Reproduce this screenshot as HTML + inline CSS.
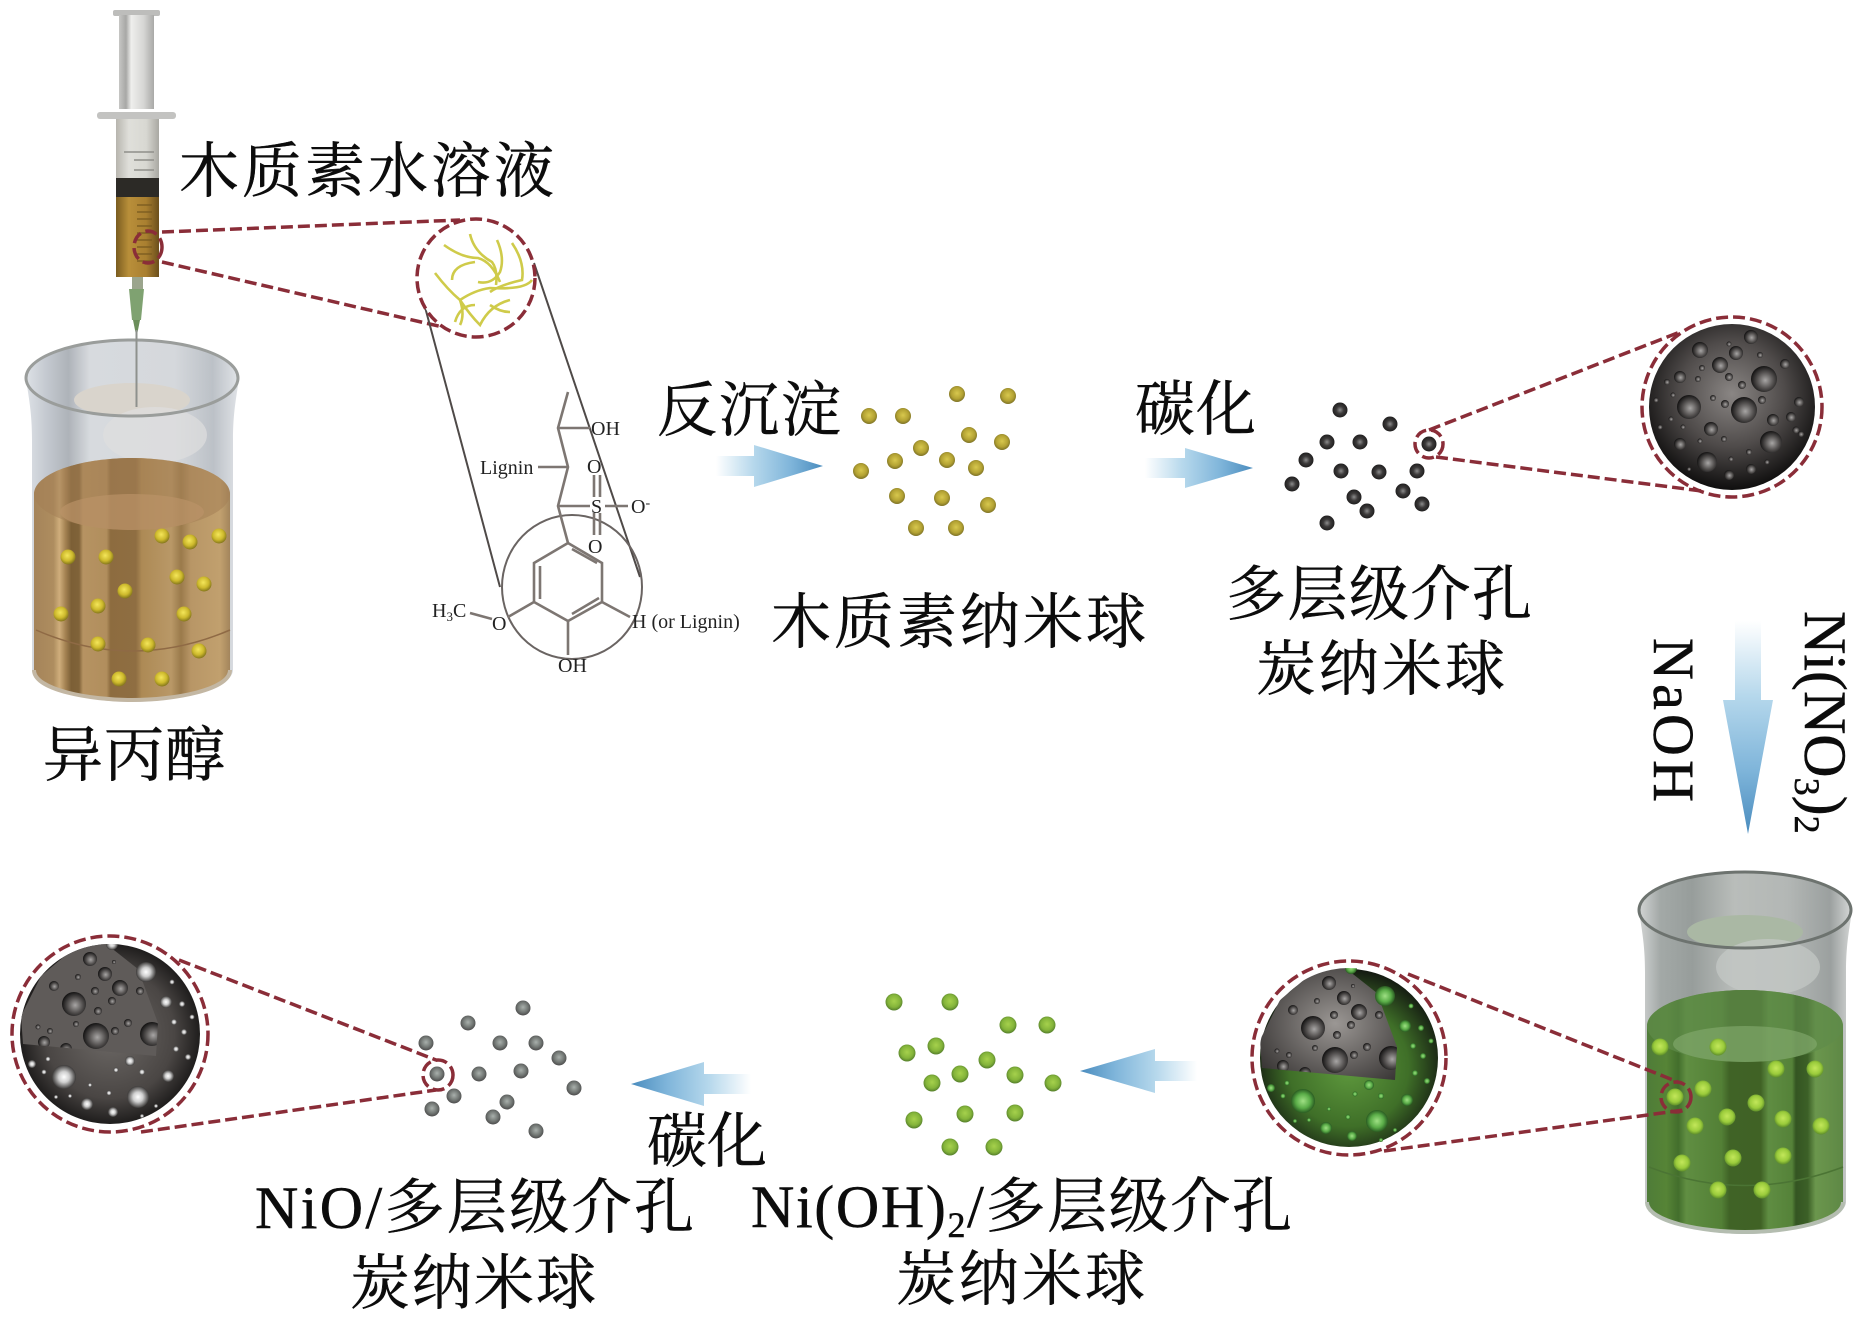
<!DOCTYPE html>
<html lang="zh"><head><meta charset="utf-8"><title>Diagram</title>
<style>html,body{margin:0;padding:0;background:#fff}svg{display:block}
.cn{font-family:"Liberation Serif","Noto Serif CJK SC",serif;font-size:60px;fill:#0c0c0c;stroke:#0c0c0c;stroke-width:.5}
.ch{font-family:"Liberation Serif","Noto Serif CJK SC",serif;font-size:20px;fill:#222}
.dash{fill:none;stroke:#8a2d38;stroke-width:3.5;stroke-dasharray:12 5}
.bond{fill:none;stroke:#7d7672;stroke-width:2.6}
.tube{fill:none;stroke:#4f4a48;stroke-width:2}
.str{fill:none;stroke:#cfcb4a;stroke-width:2.6}
</style></head><body>
<svg xmlns="http://www.w3.org/2000/svg" width="1870" height="1320" viewBox="0 0 1870 1320">
<defs>
<radialGradient id="by" cx=".45" cy=".4" r=".6"><stop offset="0" stop-color="#f4e65a"/><stop offset=".6" stop-color="#cdb92c"/><stop offset="1" stop-color="#84761c"/></radialGradient>
<radialGradient id="bo" cx=".5" cy=".45" r=".55"><stop offset="0" stop-color="#d8c84e"/><stop offset=".65" stop-color="#b3a233"/><stop offset="1" stop-color="#7d7226"/></radialGradient>
<radialGradient id="bk" cx=".5" cy=".5" r=".55"><stop offset="0" stop-color="#8c8c8c"/><stop offset=".45" stop-color="#3c3a3a"/><stop offset="1" stop-color="#1a1919"/></radialGradient>
<radialGradient id="bg" cx=".5" cy=".45" r=".55"><stop offset="0" stop-color="#c3e75a"/><stop offset=".65" stop-color="#9acb3b"/><stop offset="1" stop-color="#5d8d2a"/></radialGradient>
<radialGradient id="bn" cx=".5" cy=".45" r=".55"><stop offset="0" stop-color="#a6d14c"/><stop offset=".65" stop-color="#84b43a"/><stop offset="1" stop-color="#557f2c"/></radialGradient>
<radialGradient id="bs" cx=".5" cy=".45" r=".55"><stop offset="0" stop-color="#a9b0ac"/><stop offset=".6" stop-color="#737875"/><stop offset="1" stop-color="#4c4c4c"/></radialGradient>
<radialGradient id="sph" cx=".5" cy=".42" r=".58"><stop offset="0" stop-color="#8a8684"/><stop offset=".55" stop-color="#4f4b4a"/><stop offset="1" stop-color="#0f0e0e"/></radialGradient>
<radialGradient id="sphg" cx=".5" cy=".55" r=".56"><stop offset="0" stop-color="#5f9a3e"/><stop offset=".6" stop-color="#3f6f28"/><stop offset="1" stop-color="#111510"/></radialGradient>
<radialGradient id="sphw" cx=".5" cy=".5" r=".55"><stop offset="0" stop-color="#6e6a67"/><stop offset=".65" stop-color="#4a4644"/><stop offset="1" stop-color="#100f0f"/></radialGradient>
<radialGradient id="core" cx=".55" cy=".5" r=".65"><stop offset="0" stop-color="#9b9794"/><stop offset="1" stop-color="#3a3736"/></radialGradient>
<radialGradient id="cr" cx=".55" cy=".55" r=".55"><stop offset="0" stop-color="#a8a6a5"/><stop offset=".55" stop-color="#565352"/><stop offset="1" stop-color="#151414"/></radialGradient>
<radialGradient id="sg"><stop offset="0" stop-color="#9fe084"/><stop offset=".6" stop-color="#5aad48"/><stop offset="1" stop-color="#2a5c22"/></radialGradient>
<radialGradient id="sw"><stop offset="0" stop-color="#ffffff"/><stop offset=".45" stop-color="#cfcfcf"/><stop offset="1" stop-color="#3b3938"/></radialGradient>
<linearGradient id="arR" x1="0" x2="1" y1="0" y2="0"><stop offset="0" stop-color="#fff"/><stop offset=".35" stop-color="#b6d8ec"/><stop offset=".7" stop-color="#7fb5da"/><stop offset="1" stop-color="#4a8cbe"/></linearGradient>
<linearGradient id="arL" x1="1" x2="0" y1="0" y2="0"><stop offset="0" stop-color="#fff"/><stop offset=".35" stop-color="#b6d8ec"/><stop offset=".7" stop-color="#7fb5da"/><stop offset="1" stop-color="#4a8cbe"/></linearGradient>
<linearGradient id="arD" x1="0" x2="0" y1="0" y2="1"><stop offset="0" stop-color="#fff"/><stop offset=".35" stop-color="#b6d8ec"/><stop offset=".7" stop-color="#7fb5da"/><stop offset="1" stop-color="#4a8cbe"/></linearGradient>
<linearGradient id="rod" x1="0" x2="1" y1="0" y2="0"><stop offset="0" stop-color="#c6c6c4"/><stop offset=".2" stop-color="#a8a8a6"/><stop offset=".35" stop-color="#eeeeec"/><stop offset=".7" stop-color="#d6d6d4"/><stop offset="1" stop-color="#a9a9a7"/></linearGradient>
<linearGradient id="barrel" x1="0" x2="1" y1="0" y2="0"><stop offset="0" stop-color="#b7b5ae"/><stop offset=".3" stop-color="#dfdfda"/><stop offset=".7" stop-color="#d8d8d2"/><stop offset="1" stop-color="#a9a8a2"/></linearGradient>
<linearGradient id="sbrown" x1="0" x2="1" y1="0" y2="0"><stop offset="0" stop-color="#7a5c20"/><stop offset=".3" stop-color="#b98f3a"/><stop offset=".7" stop-color="#a97f30"/><stop offset="1" stop-color="#6b4f1c"/></linearGradient>
<linearGradient id="lqB" x1="0" x2="1" y1="0" y2="0">
<stop offset="0" stop-color="#a5845a"/><stop offset=".1" stop-color="#ae8d5f"/><stop offset=".13" stop-color="#cfae7c"/><stop offset=".16" stop-color="#a58353"/><stop offset=".19" stop-color="#7c5f36"/><stop offset=".23" stop-color="#806339"/><stop offset=".25" stop-color="#b69362"/><stop offset=".37" stop-color="#b18e5d"/><stop offset=".39" stop-color="#8d6c3f"/><stop offset=".52" stop-color="#8f6e42"/><stop offset=".55" stop-color="#ad8a55"/><stop offset=".7" stop-color="#b99867"/><stop offset=".75" stop-color="#9a7a4b"/><stop offset=".8" stop-color="#b89666"/><stop offset=".95" stop-color="#c1a06e"/><stop offset="1" stop-color="#a3855c"/></linearGradient>
<linearGradient id="lqG" x1="0" x2="1" y1="0" y2="0">
<stop offset="0" stop-color="#4f7c38"/><stop offset=".1" stop-color="#568436"/><stop offset=".16" stop-color="#436e2c"/><stop offset=".2" stop-color="#608e42"/><stop offset=".38" stop-color="#538036"/><stop offset=".42" stop-color="#406326"/><stop offset=".58" stop-color="#406225"/><stop offset=".62" stop-color="#5f8d42"/><stop offset=".74" stop-color="#558239"/><stop offset=".76" stop-color="#345522"/><stop offset=".82" stop-color="#3c6027"/><stop offset=".86" stop-color="#6b964d"/><stop offset="1" stop-color="#5e8845"/></linearGradient>
<linearGradient id="glB" x1="0" x2="1" y1="0" y2="0"><stop offset="0" stop-color="#dde1e6"/><stop offset=".1" stop-color="#c3c8cf"/><stop offset=".2" stop-color="#aeb3b9"/><stop offset=".3" stop-color="#d7dade"/><stop offset=".7" stop-color="#d5d8dc"/><stop offset=".88" stop-color="#bcc1c7"/><stop offset="1" stop-color="#e0e3e7"/></linearGradient>
<linearGradient id="glG" x1="0" x2="1" y1="0" y2="0"><stop offset="0" stop-color="#d2d4d4"/><stop offset=".1" stop-color="#a3a9a7"/><stop offset=".25" stop-color="#979d9b"/><stop offset=".45" stop-color="#b9bdba"/><stop offset=".7" stop-color="#b3b7b5"/><stop offset=".9" stop-color="#9ba09f"/><stop offset="1" stop-color="#d4d6d5"/></linearGradient>
<clipPath id="c1"><circle r="83"/></clipPath>
<clipPath id="wedge"><path d="M-5,-91 L28,-65 L48,-11 L46,22 L-87,10 L-89,-18 L-69,-58 L-37,-85Z"/></clipPath>
<clipPath id="ball90"><circle r="90"/></clipPath>
<g id="cr1">
<circle cx="32" cy="-28" r="13"/><circle cx="12" cy="3" r="13"/><circle cx="-43" cy="0" r="12"/><circle cx="39" cy="35" r="11"/><circle cx="-25" cy="55" r="10"/><circle cx="-32" cy="-57" r="8"/><circle cx="4" cy="-54" r="7"/><circle cx="-12" cy="-42" r="8"/><circle cx="19" cy="-70" r="7"/><circle cx="-21" cy="22" r="7"/><circle cx="41" cy="13" r="6"/><circle cx="-52" cy="-30" r="6"/><circle cx="-52" cy="37" r="6"/><circle cx="59" cy="10" r="5"/><circle cx="67" cy="-5" r="5"/><circle cx="53" cy="-43" r="5"/><circle cx="-3" cy="68" r="5"/><circle cx="19" cy="62" r="5"/><circle cx="10" cy="-22" r="4"/><circle cx="-3" cy="-30" r="4"/><circle cx="30" cy="-7" r="4"/><circle cx="-7" cy="-3" r="4"/><circle cx="-19" cy="-9" r="3"/><circle cx="-30" cy="-39" r="3"/><circle cx="-34" cy="-28" r="3"/><circle cx="-65" cy="-25" r="3"/><circle cx="-76" cy="-7" r="2.5"/><circle cx="-59" cy="-12" r="2.5"/><circle cx="-61" cy="12" r="2.5"/><circle cx="-72" cy="20" r="2.5"/><circle cx="-49" cy="20" r="2.5"/><circle cx="-32" cy="34" r="2.5"/><circle cx="-8" cy="32" r="3"/><circle cx="17" cy="45" r="3"/><circle cx="-1" cy="52" r="2.5"/><circle cx="35" cy="55" r="2.5"/><circle cx="64" cy="23" r="3.5"/><circle cx="69" cy="27" r="3"/><circle cx="28" cy="-52" r="3"/><circle cx="-3" cy="-63" r="2.5"/><circle cx="-43" cy="62" r="2"/>
</g>
<g id="cr2">
<circle cx="-36" cy="-30" r="12"/><circle cx="-14" cy="2" r="13"/><circle cx="42" cy="0" r="12"/><circle cx="-5" cy="-60" r="7"/><circle cx="10" cy="-46" r="8"/><circle cx="-20" cy="-75" r="7"/><circle cx="-44" cy="15" r="6"/><circle cx="-66" cy="8" r="6"/><circle cx="5" cy="-3" r="4"/><circle cx="18" cy="-11" r="4"/><circle cx="-12" cy="-23" r="4"/><circle cx="2" cy="-33" r="4"/><circle cx="-15" cy="-43" r="4"/><circle cx="30" cy="-43" r="4"/><circle cx="-34" cy="-10" r="3"/><circle cx="-60" cy="-3" r="3"/><circle cx="-72" cy="-7" r="2.5"/><circle cx="-56" cy="-48" r="5"/><circle cx="-32" cy="-57" r="3"/><circle cx="4" cy="-72" r="2"/>
</g>
<g id="spots">
<circle cx="-46" cy="43" r="12"/><circle cx="28" cy="63" r="11"/><circle cx="36" cy="-62" r="10"/><circle cx="2" cy="-90" r="6"/><circle cx="56" cy="-32" r="6"/><circle cx="58" cy="42" r="6"/><circle cx="20" cy="27" r="5"/><circle cx="-23" cy="70" r="6"/><circle cx="3" cy="78" r="5"/><circle cx="-78" cy="30" r="4"/><circle cx="66" cy="15" r="3"/><circle cx="78" cy="23" r="3"/><circle cx="74" cy="-2" r="3"/><circle cx="64" cy="-12" r="3"/><circle cx="72" cy="-30" r="3"/><circle cx="62" cy="-52" r="2.5"/><circle cx="82" cy="-17" r="2.5"/><circle cx="32" cy="38" r="3"/><circle cx="6" cy="36" r="2.5"/><circle cx="-20" cy="51" r="2"/><circle cx="-1" cy="59" r="2.5"/><circle cx="-40" cy="62" r="2"/><circle cx="-54" cy="63" r="2"/><circle cx="-66" cy="38" r="2.5"/><circle cx="-62" cy="25" r="2.5"/><circle cx="32" cy="82" r="2"/><circle cx="46" cy="72" r="2"/>
</g>
</defs>
<rect width="1870" height="1320" fill="#fff"/>

<!-- syringe -->
<rect x="113" y="10" width="47" height="6" rx="2" fill="#bdbdbb"/>
<rect x="119" y="15" width="35" height="94" fill="url(#rod)"/>
<rect x="97" y="112" width="79" height="7" rx="3" fill="#c3c3c1"/>
<rect x="116" y="119" width="43" height="59" fill="url(#barrel)"/>
<path d="M124,152h30M134,160h20M134,170h20" stroke="#8f8f8a" stroke-width="1.5"/>
<rect x="116" y="178" width="43" height="19" fill="#2c2a26"/>
<rect x="116" y="197" width="43" height="80" fill="url(#sbrown)"/>
<path d="M137,205h15M137,212h15M137,219h15M137,226h15M137,233h15M137,240h15M137,247h15M137,254h15M137,261h15" stroke="#77591f" stroke-width="1.2"/>
<rect x="132" y="277" width="11" height="12" fill="#9ba58d"/>
<path d="M129,289H144L141,320H132Z" fill="#7fa271"/>
<path d="M133,320H140L137,335H136Z" fill="#6b8e5a"/>
<line x1="136.500" y1="330" x2="136.500" y2="407" stroke="#8e918d" stroke-width="2"/>

<!-- beaker 1 -->
<g>
<path d="M26,378C28,395 32,410 32,440V670C33,690 90,702 132,702C174,702 232,690 233,670V440C233,410 237,395 239,378Z" fill="url(#glB)"/>
<ellipse cx="132" cy="378" rx="106" ry="37" fill="url(#glB)"/>
<ellipse cx="132" cy="400" rx="58" ry="17" fill="#d9d4cc"/>
<ellipse cx="155" cy="435" rx="52" ry="28" fill="#dedede" opacity=".7"/>
<path d="M34,494V670C34,690 90,700 132,700C174,700 230,690 230,670V494A98,36 0 0,0 34,494Z" fill="url(#lqB)"/>
<path d="M34,494A98,36 0 0,1 230,494A98,36 0 0,1 34,494Z" fill="#a47f55" opacity=".55"/>
<ellipse cx="132" cy="512" rx="72" ry="18" fill="#bb9368" opacity=".65"/>
<path d="M36,630Q132,672 230,630" fill="none" stroke="#8f6a45" stroke-width="1.5"/>
<path d="M34,670C34,690 90,700 132,700C174,700 230,690 230,670" fill="none" stroke="#c3b7a3" stroke-width="4"/>
<ellipse cx="132" cy="378" rx="106" ry="38" fill="none" stroke="#9a9d9b" stroke-width="3"/>
<g fill="url(#by)">
<circle cx="68" cy="557" r="7.500"/><circle cx="106" cy="557" r="7.500"/><circle cx="162" cy="536" r="7.500"/><circle cx="190" cy="542" r="7.500"/><circle cx="219" cy="536" r="7.500"/><circle cx="177" cy="577" r="7.500"/><circle cx="204" cy="584" r="7.500"/><circle cx="125" cy="591" r="7.500"/><circle cx="98" cy="606" r="7.500"/><circle cx="61" cy="614" r="7.500"/><circle cx="184" cy="614" r="7.500"/><circle cx="98" cy="644" r="7.500"/><circle cx="148" cy="645" r="7.500"/><circle cx="199" cy="651" r="7.500"/><circle cx="119" cy="679" r="7.500"/><circle cx="162" cy="679" r="7.500"/>
</g>
<line x1="136.500" y1="330" x2="136.500" y2="407" stroke="#8e918d" stroke-width="2"/>
</g>

<!-- magnify 1 -->
<ellipse cx="148" cy="247" rx="14" ry="16" class="dash" stroke-dasharray="7 4"/>
<path class="dash" d="M162,232L460,220M162,262L447,328"/>
<path class="tube" d="M425,307L500,587M534,263L640,577"/>
<circle cx="476" cy="278" r="59" fill="#fff"/>
<g class="str">
<path d="M444,245Q462,258 478,258Q492,262 500,282"/><path d="M470,234Q474,252 492,262Q498,270 496,285"/><path d="M497,240Q505,258 500,272Q492,285 478,282"/><path d="M512,243Q525,262 522,280Q500,285 490,292"/><path d="M435,273Q448,290 460,300Q465,315 460,325"/><path d="M460,300Q475,290 490,288Q525,290 532,280"/><path d="M452,280Q452,265 475,262"/><path d="M460,300Q470,315 480,325Q490,305 510,300"/><path d="M490,305Q500,312 510,312"/><path d="M455,322Q460,305 475,305"/>
</g>
<circle cx="476" cy="278" r="59" class="dash"/>

<!-- chem -->
<ellipse cx="572" cy="587" rx="70" ry="72" fill="none" stroke="#6a6462" stroke-width="2"/>
<path class="bond" d="M568,392L558,428L568,467L558,506L568,543L602,563V602L568,621L534,602V563L568,543"/>
<path class="bond" d="M572,549L597,563M599,598L572,614M540,566V599"/>
<path class="bond" d="M558,428H590M538,467H568M558,506H590M605,506H628M594,475V497M600,475V497M594,513V535M600,513V535M470,613L492,619M508,617L534,602M568,621V655M602,602L630,617"/>
<text class="ch" x="591" y="435">OH</text>
<text class="ch" x="480" y="474">Lignin</text>
<text class="ch" x="587" y="473">O</text>
<text class="ch" x="591" y="513">S</text>
<text class="ch" x="588" y="553">O</text>
<text class="ch" x="631" y="513">O<tspan dy="-6" font-size="14">-</tspan></text>
<text class="ch" x="432" y="617">H<tspan dy="4" font-size="13">3</tspan><tspan dy="-4">C</tspan></text>
<text class="ch" x="492" y="630">O</text>
<text class="ch" x="558" y="672">OH</text>
<text class="ch" x="632" y="628">H (or Lignin)</text>

<!-- texts -->
<text class="cn" x="179" y="192" textLength="375">木质素水溶液</text>
<text class="cn" x="43" y="776" textLength="182">异丙醇</text>
<text class="cn" x="657" y="431" textLength="184">反沉淀</text>
<text class="cn" x="771" y="643" textLength="375">木质素纳米球</text>
<text class="cn" x="1135" y="430" textLength="121">碳化</text>
<text class="cn" x="1226" y="615" textLength="306">多层级介孔</text>
<text class="cn" x="1256" y="690" textLength="249">炭纳米球</text>
<text class="cn" x="647" y="1162" textLength="120">碳化</text>
<text class="cn" x="255" y="1228" textLength="439">NiO/多层级介孔</text>
<text class="cn" x="350" y="1304" textLength="246">炭纳米球</text>
<text class="cn" x="751" y="1227" textLength="541">Ni(OH)<tspan dy="10" font-size="36">2</tspan><tspan dy="-10">/多层级介孔</tspan></text>
<text class="cn" x="896" y="1300" textLength="249">炭纳米球</text>
<text class="cn" style="font-size:58px" textLength="164" transform="translate(1654,638) rotate(90)">NaOH</text>
<text class="cn" style="font-size:60px" transform="translate(1805,611) rotate(90)">Ni(NO<tspan dy="10" font-size="36">3</tspan><tspan dy="-10">)</tspan><tspan dy="10" font-size="36">2</tspan></text>

<!-- arrows -->
<path d="M716,456H754V445L823,466L754,487V476H716Z" fill="url(#arR)"/>
<path d="M1145,458H1185V448L1253,468L1185,488V478H1145Z" fill="url(#arR)"/>
<path d="M1735,621H1761V700H1773L1748,834L1723,700H1735Z" fill="url(#arD)"/>
<path d="M1197,1061H1155V1049L1080,1071L1155,1093V1081H1197Z" fill="url(#arL)"/>
<path d="M751,1074H704V1062L631,1084L704,1106V1094H751Z" fill="url(#arL)"/>

<!-- nanosphere clusters -->
<g fill="url(#bo)">
<circle cx="957" cy="394" r="8"/><circle cx="1008" cy="396" r="8"/><circle cx="869" cy="416" r="8"/><circle cx="903" cy="416" r="8"/><circle cx="969" cy="435" r="8"/><circle cx="1002" cy="442" r="8"/><circle cx="921" cy="448" r="8"/><circle cx="895" cy="461" r="8"/><circle cx="947" cy="460" r="8"/><circle cx="976" cy="468" r="8"/><circle cx="861" cy="471" r="8"/><circle cx="897" cy="496" r="8"/><circle cx="942" cy="498" r="8"/><circle cx="988" cy="505" r="8"/><circle cx="916" cy="528" r="8"/><circle cx="956" cy="528" r="8"/>
</g>
<g fill="url(#bk)">
<circle cx="1340" cy="410" r="7.500"/><circle cx="1390" cy="424" r="7.500"/><circle cx="1327" cy="442" r="7.500"/><circle cx="1360" cy="442" r="7.500"/><circle cx="1429" cy="444" r="7.500"/><circle cx="1306" cy="460" r="7.500"/><circle cx="1341" cy="471" r="7.500"/><circle cx="1379" cy="472" r="7.500"/><circle cx="1417" cy="471" r="7.500"/><circle cx="1292" cy="484" r="7.500"/><circle cx="1403" cy="491" r="7.500"/><circle cx="1354" cy="497" r="7.500"/><circle cx="1422" cy="504" r="7.500"/><circle cx="1367" cy="511" r="7.500"/><circle cx="1327" cy="523" r="7.500"/>
</g>
<g fill="url(#bn)">
<circle cx="894" cy="1002" r="8.500"/><circle cx="950" cy="1002" r="8.500"/><circle cx="1008" cy="1025" r="8.500"/><circle cx="1047" cy="1025" r="8.500"/><circle cx="907" cy="1053" r="8.500"/><circle cx="936" cy="1046" r="8.500"/><circle cx="987" cy="1060" r="8.500"/><circle cx="932" cy="1083" r="8.500"/><circle cx="960" cy="1074" r="8.500"/><circle cx="1015" cy="1075" r="8.500"/><circle cx="1053" cy="1083" r="8.500"/><circle cx="965" cy="1114" r="8.500"/><circle cx="1015" cy="1113" r="8.500"/><circle cx="914" cy="1120" r="8.500"/><circle cx="950" cy="1147" r="8.500"/><circle cx="994" cy="1147" r="8.500"/>
</g>
<g fill="url(#bs)">
<circle cx="523" cy="1008" r="7.500"/><circle cx="468" cy="1023" r="7.500"/><circle cx="426" cy="1043" r="7.500"/><circle cx="500" cy="1043" r="7.500"/><circle cx="536" cy="1043" r="7.500"/><circle cx="559" cy="1058" r="7.500"/><circle cx="437" cy="1074" r="7.500"/><circle cx="479" cy="1074" r="7.500"/><circle cx="521" cy="1071" r="7.500"/><circle cx="574" cy="1088" r="7.500"/><circle cx="454" cy="1096" r="7.500"/><circle cx="507" cy="1102" r="7.500"/><circle cx="432" cy="1109" r="7.500"/><circle cx="493" cy="1117" r="7.500"/><circle cx="536" cy="1131" r="7.500"/>
</g>

<!-- black sphere -->
<circle cx="1429" cy="444" r="14" class="dash" stroke-dasharray="7 4"/>
<path class="dash" d="M1429,430L1680,332M1436,457L1702,491"/>
<g transform="translate(1732,407)">
<circle r="83" fill="url(#sph)"/>
<g clip-path="url(#c1)"><use href="#cr1" fill="url(#cr)"/></g>
<circle r="90" class="dash"/>
</g>

<!-- green beaker -->
<g transform="translate(1613,532)">
<path d="M26,378C28,395 32,410 32,440V670C33,690 90,702 132,702C174,702 232,690 233,670V440C233,410 237,395 239,378Z" fill="url(#glG)"/>
<ellipse cx="132" cy="378" rx="106" ry="37" fill="url(#glG)"/>
<ellipse cx="132" cy="400" rx="58" ry="17" fill="#aab8a4"/>
<ellipse cx="155" cy="435" rx="52" ry="28" fill="#c5c9c6" opacity=".7"/>
<path d="M34,494V670C34,690 90,700 132,700C174,700 230,690 230,670V494A98,36 0 0,0 34,494Z" fill="url(#lqG)"/>
<path d="M34,494A98,36 0 0,1 230,494A98,36 0 0,1 34,494Z" fill="#5f8c4a" opacity=".7"/>
<ellipse cx="132" cy="512" rx="72" ry="18" fill="#86ac70" opacity=".6"/>
<path d="M36,635Q132,672 230,635" fill="none" stroke="#4b7434" stroke-width="1.5"/>
<path d="M34,670C34,690 90,700 132,700C174,700 230,690 230,670" fill="none" stroke="#b4bdb0" stroke-width="4"/>
<ellipse cx="132" cy="378" rx="106" ry="38" fill="none" stroke="#6d736f" stroke-width="3"/>
</g>
<g fill="url(#bg)">
<circle cx="1660" cy="1047" r="8.500"/><circle cx="1718" cy="1047" r="8.500"/><circle cx="1776" cy="1069" r="8.500"/><circle cx="1815" cy="1069" r="8.500"/><circle cx="1703" cy="1089" r="8.500"/><circle cx="1675" cy="1097" r="8.500"/><circle cx="1756" cy="1103" r="8.500"/><circle cx="1727" cy="1117" r="8.500"/><circle cx="1783" cy="1119" r="8.500"/><circle cx="1695" cy="1126" r="8.500"/><circle cx="1821" cy="1126" r="8.500"/><circle cx="1733" cy="1158" r="8.500"/><circle cx="1783" cy="1156" r="8.500"/><circle cx="1682" cy="1163" r="8.500"/><circle cx="1718" cy="1190" r="8.500"/><circle cx="1762" cy="1190" r="8.500"/>
</g>

<!-- green sphere -->
<circle cx="1676" cy="1097" r="15" class="dash" stroke-dasharray="7 4"/>
<path class="dash" d="M1408,974L1678,1082M1384,1151L1684,1110"/>
<g transform="translate(1349,1058)">
<circle r="89" fill="url(#sphg)"/>
<path d="M-5,-91L28,-65L48,-11L46,22L-87,10L-89,-18L-69,-58L-37,-85Z" fill="url(#core)" clip-path="url(#ball90)"/>
<g clip-path="url(#wedge)"><use href="#cr2" fill="url(#cr)"/></g>
<g clip-path="url(#ball90)"><use href="#spots" fill="url(#sg)"/></g>
<circle r="97" class="dash"/>
</g>

<!-- bottom-left sphere -->
<circle cx="438" cy="1075" r="15" class="dash" stroke-dasharray="7 4"/>
<path class="dash" d="M179,960L436,1060M141,1132L436,1090"/>
<g transform="translate(110,1034)">
<circle r="90" fill="url(#sphw)"/>
<path d="M-5,-91L28,-65L48,-11L46,22L-87,10L-89,-18L-69,-58L-37,-85Z" fill="#5f5b59" clip-path="url(#ball90)"/>
<g clip-path="url(#wedge)"><use href="#cr2" fill="url(#cr)"/></g>
<g clip-path="url(#ball90)"><use href="#spots" fill="url(#sw)"/></g>
<circle r="98" class="dash"/>
</g>
</svg>
</body></html>
